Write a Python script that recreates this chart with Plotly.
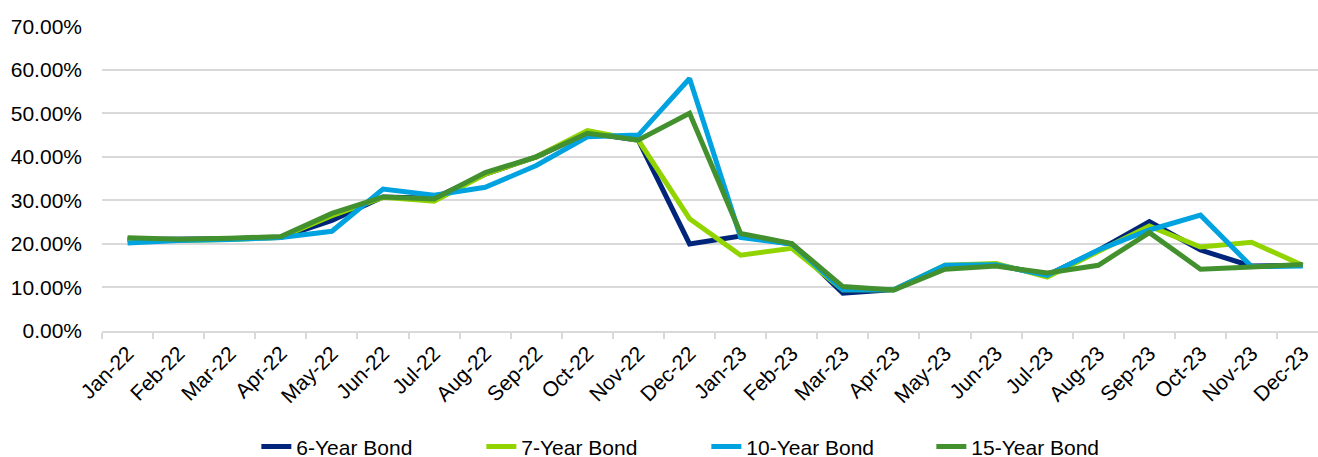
import plotly.graph_objects as go

MONTHS = [
    "Jan-22", "Feb-22", "Mar-22", "Apr-22", "May-22", "Jun-22",
    "Jul-22", "Aug-22", "Sep-22", "Oct-22", "Nov-22", "Dec-22",
    "Jan-23", "Feb-23", "Mar-23", "Apr-23", "May-23", "Jun-23",
    "Jul-23", "Aug-23", "Sep-23", "Oct-23", "Nov-23", "Dec-23",
]

# values in percent
BOND_6Y = [21.0, 21.0, 21.2, 21.5, 25.4, 30.8, 30.5, 36.0, 40.0, 45.5, 43.8, 20.0,
           21.8, 20.0, 8.7, 9.5, 15.0, 15.2, 12.8, 18.5, 25.1, 18.6, 14.9, 15.1]
BOND_7Y = [21.0, 20.8, 21.0, 21.5, 26.5, 30.7, 29.8, 36.0, 40.0, 46.0, 43.8, 25.8,
           17.4, 19.0, 9.5, 9.5, 15.1, 15.5, 12.4, 18.4, 24.1, 19.3, 20.4, 15.1]
BOND_10Y = [20.2, 20.8, 21.0, 21.5, 22.9, 32.6, 31.2, 33.0, 38.0, 44.6, 45.0, 58.0,
            21.5, 20.0, 9.5, 9.5, 15.1, 15.2, 12.8, 18.6, 23.2, 26.6, 14.8, 14.9]
BOND_15Y = [21.4, 21.1, 21.3, 21.7, 27.0, 30.8, 30.3, 36.4, 40.0, 45.4, 43.9, 50.0,
            22.4, 20.1, 10.2, 9.4, 14.2, 14.9, 13.3, 15.1, 22.6, 14.2, 14.7, 15.3]

SERIES = [
    ("6-Year Bond", BOND_6Y, "#00257A"),
    ("7-Year Bond", BOND_7Y, "#92D400"),
    ("10-Year Bond", BOND_10Y, "#00A3E0"),
    ("15-Year Bond", BOND_15Y, "#43902F"),
]

FONT = "Liberation Sans, Arial, sans-serif"

fig = go.Figure()
for name, vals, color in SERIES:
    fig.add_trace(
        go.Scatter(
            x=MONTHS,
            y=vals,
            name=name,
            mode="lines",
            line=dict(color=color, width=5),
        )
    )

fig.update_layout(
    width=1318,
    height=457,
    margin=dict(l=102, r=0, t=26, b=126, autoexpand=False),
    paper_bgcolor="white",
    plot_bgcolor="white",
    font=dict(family=FONT, size=21, color="#000000"),
    showlegend=True,
    legend=dict(
        orientation="h",
        x=0.497,
        xanchor="center",
        y=-0.38,
        yanchor="middle",
        font=dict(size=21),
        itemwidth=30,
        entrywidth=180,
    ),
)
fig.update_xaxes(
    type="category",
    range=[-0.5, 23.3],
    tickangle=-45,
    tickson="boundaries",
    ticks="outside",
    ticklen=6,
    tickcolor="#d9d9d9",
    tickwidth=1.5,
    showline=True,
    linecolor="#d9d9d9",
    linewidth=1.5,
    showgrid=False,
)
fig.update_yaxes(
    range=[0, 70.05],
    dtick=10,
    tickformat=".2f",
    ticksuffix="%",
    showgrid=True,
    gridcolor="#d9d9d9",
    gridwidth=1.5,
    zeroline=False,
    ticklabelstandoff=19,
)

fig.write_html(
    "out.html",
    config={"displayModeBar": False},
    post_script="document.body.style.margin='0';",
)
